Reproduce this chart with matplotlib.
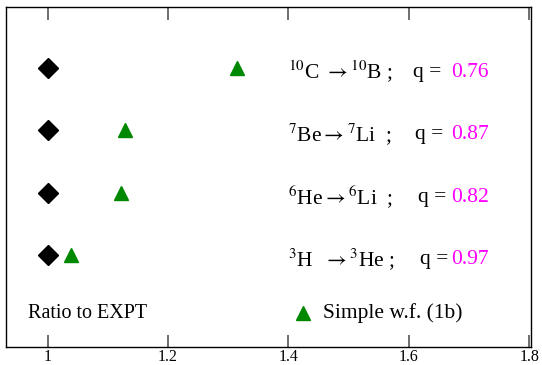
import matplotlib
matplotlib.use("Agg")
import matplotlib.pyplot as plt

plt.rcParams['font.family'] = ['Liberation Serif', 'DejaVu Serif']
plt.rcParams['mathtext.fontset'] = 'stix'

# Data
rows = [4, 3, 2, 1]
transitions = [r"$^{10}$C $\rightarrow$$^{10}$B ;",
               r"$^{7}$Be$\rightarrow$$^{7}$Li  ;",
               r"$^{6}$He$\rightarrow$$^{6}$Li  ;",
               r"$^{3}$H  $\rightarrow$$^{3}$He ;"]
q_values = ["0.76", "0.87", "0.82", "0.97"]
expt_ratio = [1.0, 1.0, 1.0, 1.0]
simple_wf = [1.315, 1.128, 1.122, 1.039]
xticks = [1.0, 1.2, 1.4, 1.6, 1.8]
xticklabels = ["1", "1.2", "1.4", "1.6", "1.8"]

fig = plt.figure(figsize=(5.42, 3.65), dpi=100)
ax = fig.add_axes([5.5/542, 1 - 347/365, (531 - 5.5)/542, (347 - 6.5)/365])

ax.plot(expt_ratio, rows, linestyle='none', marker='D', color='black', markersize=10)
ax.plot(simple_wf, rows, linestyle='none', marker='^', color='#008800', markersize=10)

fs = 15.5
q_x = [1.607, 1.611, 1.615, 1.618]
for r, t, qx, q in zip(rows, transitions, q_x, q_values):
    ax.text(1.40, r - 0.07, t, fontsize=fs, va='center', ha='left')
    ax.text(qx, r - 0.07, "q =", fontsize=fs, va='center', ha='left')
    ax.text(1.670, r - 0.07, q, fontsize=fs, va='center', ha='left', color='#ff00ff')

ax.text(0.967, 0.07, "Ratio to EXPT", fontsize=14.5, va='center', ha='left')
ax.plot([1.425], [0.07], linestyle='none', marker='^', color='#008800', markersize=10)
ax.text(1.458, 0.07, "Simple w.f. (1b)", fontsize=fs, va='center', ha='left')

ax.set_xlim(0.93, 1.803)
ax.set_ylim(-0.47, 4.98)
ax.set_xticks(xticks)
ax.set_xticklabels(xticklabels, fontsize=11.5)
ax.set_yticks([])
ax.tick_params(axis='x', direction='in', length=9, width=1.2, color='#555555',
               top=True, bottom=True, pad=1.5)
for s in ax.spines.values():
    s.set_linewidth(1.0)

fig.savefig("out.png", dpi=100)
